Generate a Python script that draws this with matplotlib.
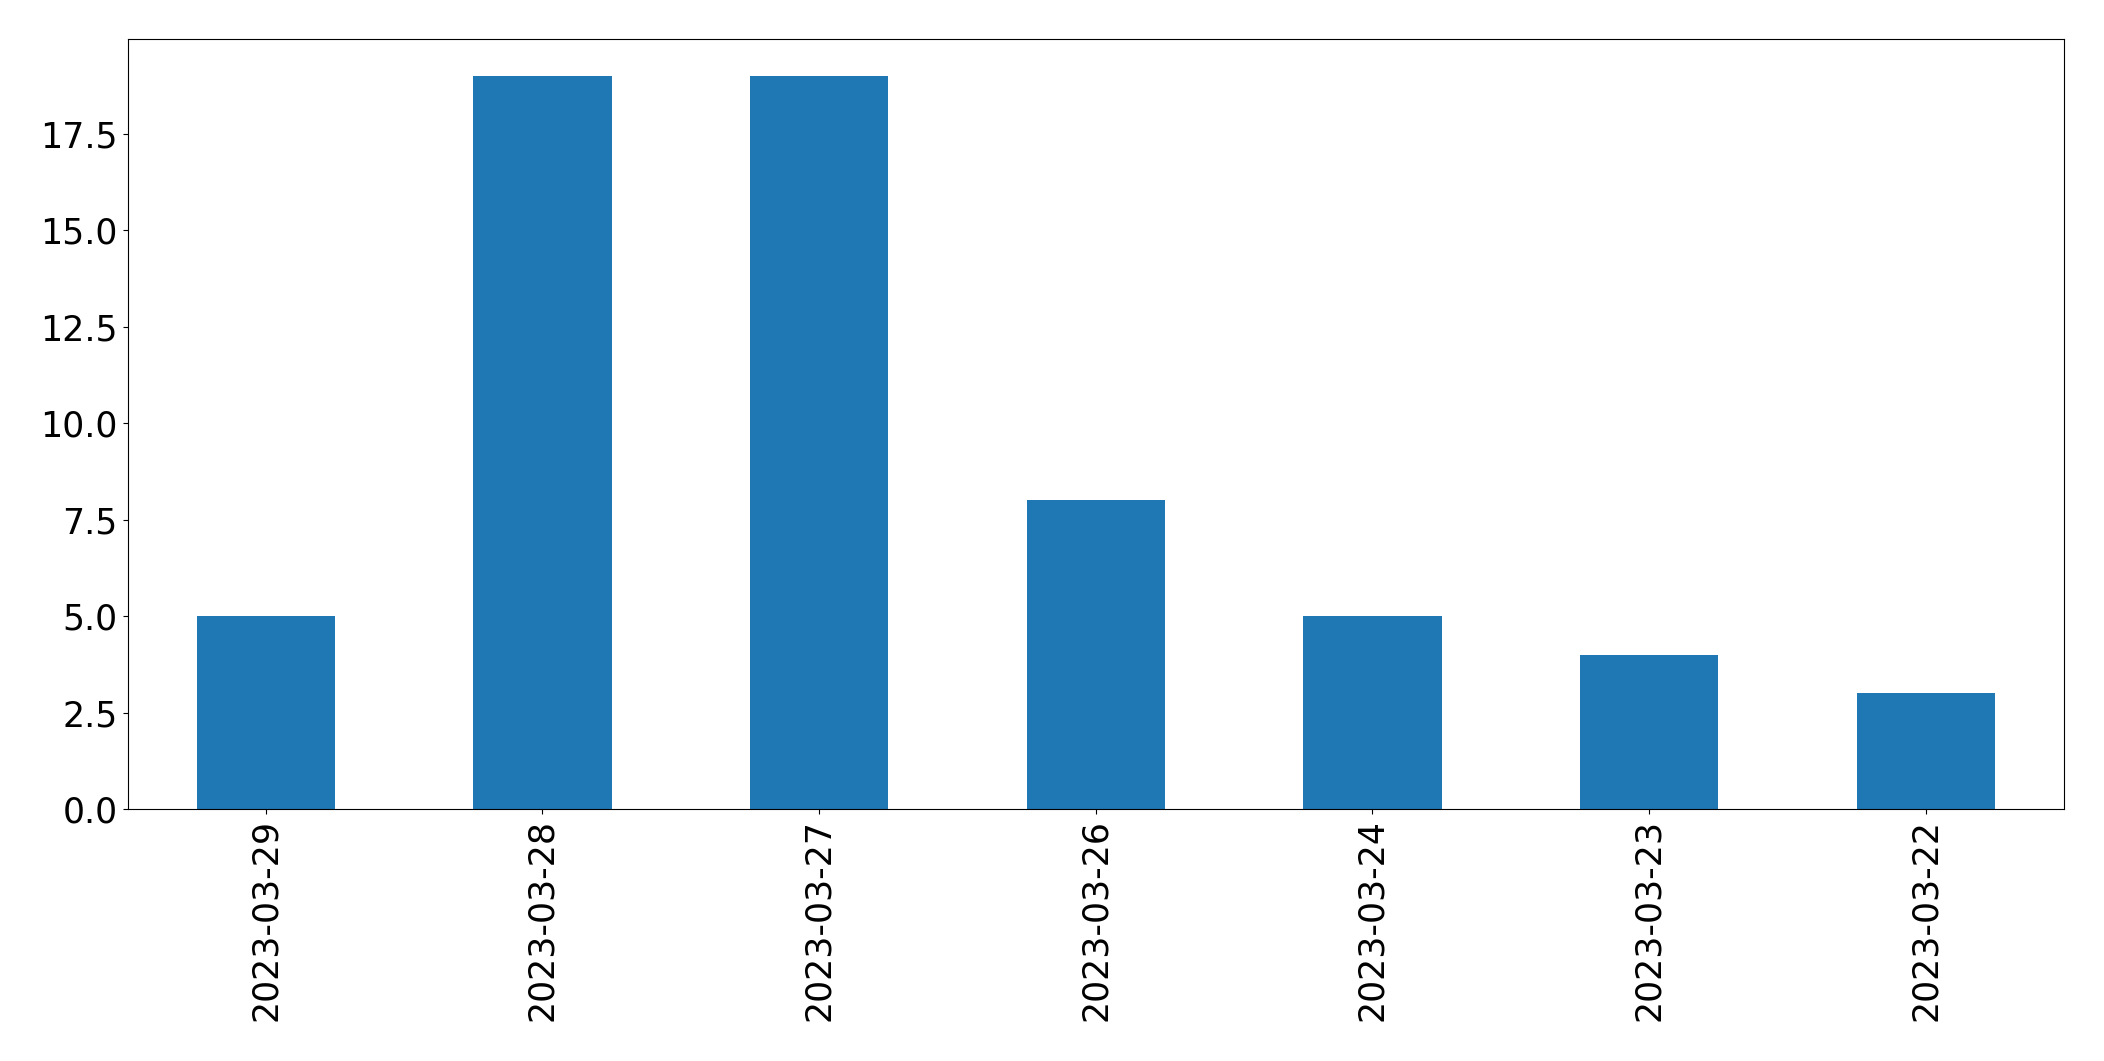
import pandas as pd
import matplotlib
matplotlib.use('Agg')
import matplotlib.pyplot as plt

# 每日计数（按日期倒序）
dates = ['2023-03-29', '2023-03-28', '2023-03-27', '2023-03-26',
         '2023-03-24', '2023-03-23', '2023-03-22']
counts = [5, 19, 19, 8, 5, 4, 3]

s = pd.Series(counts, index=dates)

plt.rcParams['font.family'] = 'DejaVu Sans'
plt.rcParams['font.size'] = 25

fig, ax = plt.subplots(figsize=(21.04, 10.61), dpi=100)
s.plot(kind='bar', ax=ax, color='#1f77b4')
ax.tick_params(axis='both', labelsize=25)

fig.subplots_adjust(left=127.5 / 2104, right=2064 / 2104,
                    top=1 - 39 / 1061, bottom=1 - 809 / 1061)
fig.savefig('out.png', dpi=100)
